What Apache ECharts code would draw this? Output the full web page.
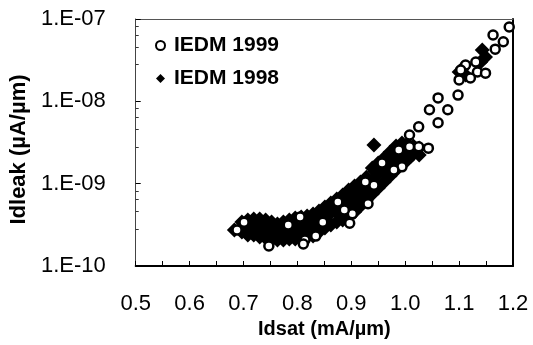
<!DOCTYPE html>
<html>
<head>
<meta charset="utf-8">
<script src="https://cdn.jsdelivr.net/npm/echarts@6/dist/echarts.min.js"></script>
<style>
  html, body { margin: 0; padding: 0; background: #fff; }
  #chart { width: 533px; height: 345px; }
</style>
</head>
<body>
<div id="chart"></div>
<script>
// IEDM 1998 (filled diamonds)
var iedm1998X = [
    0.683,
    0.697, 0.697,
    0.708, 0.708, 0.708,
    0.719, 0.719, 0.719,
    0.730, 0.730, 0.730,
    0.741, 0.741, 0.741,
    0.752, 0.752, 0.752,
    0.763, 0.763, 0.763,
    0.774, 0.774, 0.774,
    0.785, 0.785, 0.785,
    0.796, 0.796, 0.796,
    0.807, 0.807, 0.807,
    0.818, 0.818, 0.818,
    0.829, 0.829, 0.829,
    0.840, 0.840, 0.840,
    0.851, 0.851, 0.851,
    0.862, 0.862, 0.862,
    0.873, 0.873, 0.873,
    0.884, 0.884, 0.884,
    0.895, 0.895, 0.895,
    0.906, 0.906, 0.906,
    0.917, 0.917, 0.917,
    0.928, 0.928, 0.928,
    0.939, 0.939, 0.939,
    0.950, 0.950, 0.950,
    0.961, 0.961, 0.961,
    0.972, 0.972, 0.972,
    0.983, 0.983, 0.983,
    0.994, 0.994, 0.994,
    1.004, 1.004, 1.004,
    1.015, 1.015,
    1.026, 1.026,
    // in between the columns above
    0.702, 0.702, 0.725, 0.725, 0.747, 0.747, 0.769, 0.769,
    0.791, 0.791, 0.813, 0.813, 0.834, 0.834, 0.856, 0.856,
    0.878, 0.878, 0.900, 0.900, 0.922, 0.922, 0.944, 0.944,
    0.966, 0.966, 0.988, 0.988, 1.011, 1.011,
    // stray ones
    0.942, 1.100, 1.112, 1.107, 1.143, 1.149, 1.140
];
var iedm1998Y = [
    2.74e-10,
    3.42e-10, 2.59e-10,
    3.62e-10, 2.89e-10, 2.38e-10,
    3.72e-10, 2.98e-10, 2.38e-10,
    3.72e-10, 2.89e-10, 2.25e-10,
    3.62e-10, 2.81e-10, 2.19e-10,
    3.42e-10, 2.66e-10, 2.07e-10,
    3.24e-10, 2.59e-10, 2.07e-10,
    3.42e-10, 2.66e-10, 2.07e-10,
    3.62e-10, 2.81e-10, 2.13e-10,
    3.83e-10, 2.89e-10, 2.13e-10,
    3.94e-10, 2.98e-10, 2.19e-10,
    4.05e-10, 3.06e-10, 2.25e-10,
    4.28e-10, 3.15e-10, 2.31e-10,
    4.66e-10, 3.52e-10, 2.59e-10,
    5.21e-10, 3.94e-10, 2.89e-10,
    5.82e-10, 4.40e-10, 3.15e-10,
    6.51e-10, 4.79e-10, 3.42e-10,
    7.28e-10, 5.21e-10, 3.62e-10,
    8.38e-10, 5.99e-10, 4.05e-10,
    9.37e-10, 6.70e-10, 4.53e-10,
    1.05e-9, 7.49e-10, 5.36e-10,
    1.20e-9, 8.86e-10, 6.33e-10,
    1.55e-9, 1.11e-9, 7.49e-10,
    1.78e-9, 1.31e-9, 8.86e-10,
    2.05e-9, 1.55e-9, 1.05e-9,
    2.42e-9, 1.83e-9, 1.24e-9,
    2.87e-9, 2.17e-9, 1.47e-9,
    3.12e-9, 2.42e-9, 1.73e-9,
    3.03e-9, 2.42e-9, 1.94e-9,
    2.87e-9, 2.29e-9,
    2.71e-9, 2.23e-9,
    3.15e-10, 2.66e-10, 3.33e-10, 2.59e-10, 3.15e-10, 2.45e-10, 2.98e-10, 2.31e-10,
    3.24e-10, 2.45e-10, 3.52e-10, 2.59e-10, 3.83e-10, 2.81e-10, 4.79e-10, 3.52e-10,
    5.82e-10, 4.16e-10, 7.49e-10, 5.21e-10, 9.63e-10, 6.89e-10, 1.42e-9, 9.91e-10,
    1.94e-9, 1.39e-9, 2.64e-9, 1.89e-9, 2.71e-9, 2.17e-9,
    2.95e-9, 2.27e-8, 2.09e-8, 2.54e-8, 4.2e-8, 3.45e-8, 3.0e-8
];

// IEDM 1999 (open circles)
var iedm1999X = [
    1.193, 1.163, 1.182, 1.167, 1.131, 1.112, 1.103, 1.134, 1.149, 1.121,
    1.100, 1.098, 1.061, 1.045, 1.079, 1.061, 1.025, 1.008, 1.043, 1.025,
    1.008, 0.988, 0.994, 0.979, 0.957, 0.942, 0.926, 0.931, 0.902, 0.897,
    0.887, 0.875, 0.847, 0.834, 0.814, 0.811, 0.805, 0.783, 0.747, 0.701,
    0.688
];
var iedm1999Y = [
    8.0e-8, 6.4e-8, 5.3e-8, 4.3e-8, 3.0e-8, 2.76e-8, 2.4e-8, 2.27e-8, 2.2e-8, 1.92e-8,
    1.82e-8, 1.19e-8, 1.10e-8, 7.9e-9, 7.9e-9, 5.5e-9, 4.9e-9, 3.9e-9, 2.7e-9, 2.8e-9,
    2.8e-9, 2.56e-9, 1.6e-9, 1.47e-9, 1.78e-9, 9.6e-10, 1.05e-9, 5.7e-10, 4.3e-10, 3.3e-10,
    4.8e-10, 6.0e-10, 3.4e-10, 2.31e-10, 2.07e-10, 1.85e-10, 3.94e-10, 3.15e-10, 1.75e-10, 3.4e-10,
    2.74e-10
];

var xMin = 0.5, xMax = 1.2;
var yMin = 1e-10, yMax = 1e-7;

function pairs(xs, ys) {
    var out = [];
    for (var i = 0; i < xs.length; ++i) out.push([xs[i], ys[i]]);
    return out;
}

function logLabel(v) {
    var e = Math.round(Math.log10(v));
    var a = Math.abs(e);
    return '1.E' + (e < 0 ? '-' : '+') + (a < 10 ? '0' + a : a);
}

var font = "'Liberation Sans', Arial, sans-serif";

var option = {
    animation: false,
    backgroundColor: '#fff',
    grid: { left: 130, right: 20, top: 19, bottom: 79 },
    legend: {
        orient: 'vertical',
        left: 150,
        top: 30,
        itemWidth: 9,
        itemHeight: 9,
        itemGap: 12,
        textStyle: { fontFamily: font, fontSize: 21, fontWeight: 'bold', color: '#000', padding: [0, 0, 0, 4] },
        data: ['IEDM 1999', 'IEDM 1998']
    },
    xAxis: [
        {
            type: 'value',
            min: xMin, max: xMax, interval: 0.1,
            name: 'Idsat (mA/µm)',
            nameLocation: 'middle',
            nameGap: 50,
            nameTextStyle: { fontFamily: font, fontSize: 20, fontWeight: 'bold', color: '#000' },
            axisLine: { lineStyle: { color: '#000', width: 2 } },
            axisTick: { inside: true, length: 5, lineStyle: { color: '#000' } },
            minorTick: { show: true, splitNumber: 2, length: 5, lineStyle: { color: '#000' } },
            splitLine: { show: false },
            axisLabel: {
                margin: 27,
                fontFamily: font, fontSize: 22, color: '#000',
                formatter: function (v) { return v.toFixed(1); }
            }
        },
        {
            type: 'value', position: 'top',
            min: xMin, max: xMax,
            axisLine: { show: true, lineStyle: { color: '#555', width: 1 } },
            axisTick: { show: false }, axisLabel: { show: false }, splitLine: { show: false }
        }
    ],
    yAxis: [
        {
            type: 'log', logBase: 10,
            min: yMin, max: yMax,
            name: 'Idleak (µA/µm)',
            nameLocation: 'middle',
            nameGap: 99,
            nameTextStyle: { fontFamily: font, fontSize: 22, fontWeight: 'bold', color: '#000', padding: [0, 14, 0, 0] },
            axisLine: { show: true, lineStyle: { color: '#444', width: 1 } },
            axisTick: { inside: true, length: 5, lineStyle: { color: '#000' } },
            minorTick: { show: true, splitNumber: 5, length: 3, lineStyle: { color: '#333' } },
            splitLine: { show: false },
            axisLabel: {
                margin: 30,
                fontFamily: font, fontSize: 22, color: '#000',
                formatter: logLabel
            }
        },
        {
            type: 'log', logBase: 10, position: 'right',
            min: yMin, max: yMax,
            axisLine: { show: true, lineStyle: { color: '#000', width: 2 } },
            axisTick: { show: false }, axisLabel: { show: false }, splitLine: { show: false }
        }
    ],
    series: [
        {
            name: 'IEDM 1998',
            type: 'scatter',
            symbol: 'diamond',
            symbolSize: 15,
            itemStyle: { color: '#000', opacity: 1 },
            data: pairs(iedm1998X, iedm1998Y)
        },
        {
            name: 'IEDM 1999',
            type: 'scatter',
            symbol: 'circle',
            symbolSize: 9,
            itemStyle: { color: '#fff', borderColor: '#000', borderWidth: 2.5, opacity: 1 },
            data: pairs(iedm1999X, iedm1999Y)
        }
    ]
};

var myChart = echarts.init(document.getElementById('chart'));
myChart.setOption(option);
</script>
</body>
</html>
